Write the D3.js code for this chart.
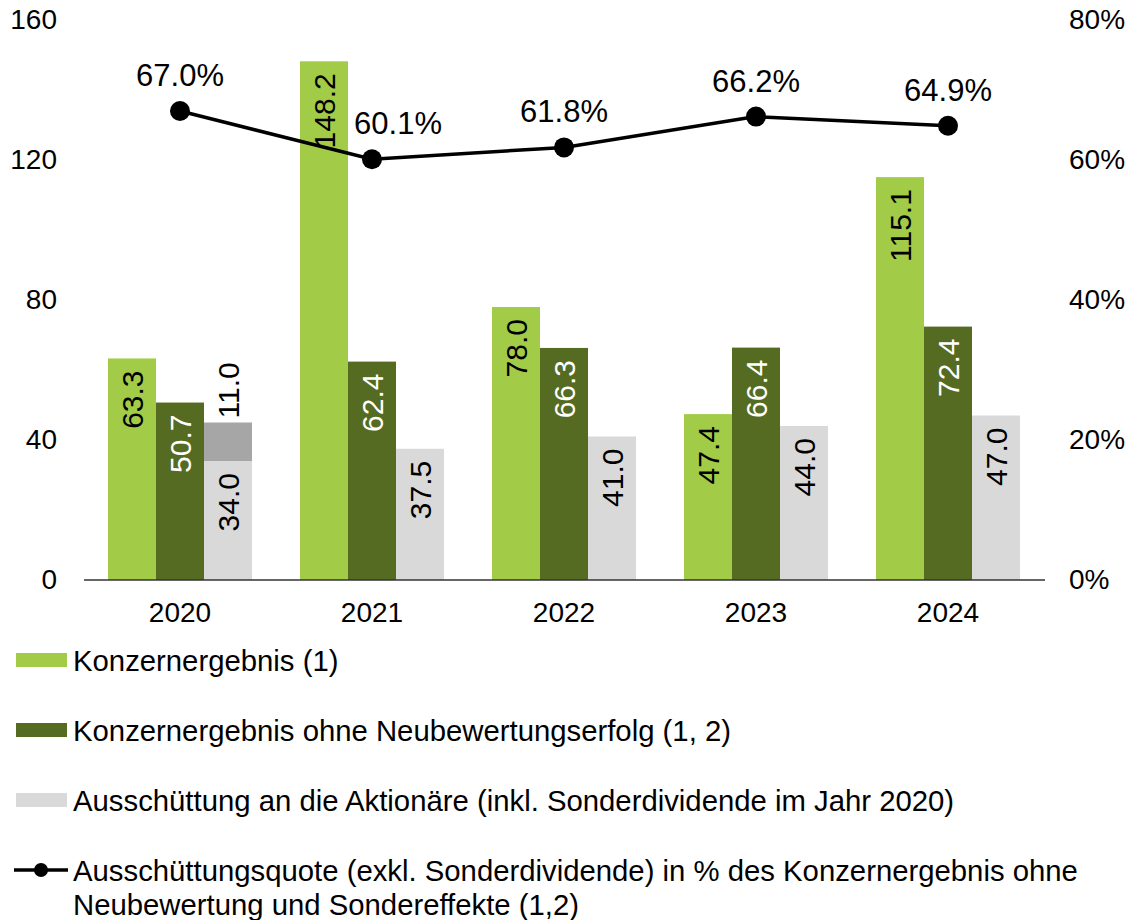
<!DOCTYPE html>
<html lang="de">
<head>
  <meta charset="UTF-8">
  <title>Konzernergebnis und Ausschüttung</title>
  <script src="https://d3js.org/d3.v7.min.js"></script>
  <style>
    body { margin: 0; background: white; font-family: "Liberation Sans", Arial, Helvetica, sans-serif; }
    .tick text { font-size: 28px; fill: #000; }
    .lbl { font-size: 30px; }
    .pct { font-size: 31px; }
    .legend text { font-size: 29.3px; fill: #000; }
  </style>
</head>
<body>
<svg id="svg"></svg>
<script>
// data
const years = ["2020", "2021", "2022", "2023", "2024"];
const konzernergebnis = [63.3, 148.2, 78.0, 47.4, 115.1];
const ohneNeubewertung = [50.7, 62.4, 66.3, 66.4, 72.4];
const ausschuettung = [34.0, 37.5, 41.0, 44.0, 47.0];
const sonderdividende = [11.0, 0, 0, 0, 0];
const quote = [67.0, 60.1, 61.8, 66.2, 64.9];
const leftTicks = [0, 40, 80, 120, 160];
const rightTicks = [0, 20, 40, 60, 80];
const legendLabels = [
  "Konzernergebnis (1)",
  "Konzernergebnis ohne Neubewertungserfolg (1, 2)",
  "Ausschüttung an die Aktionäre (inkl. Sonderdividende im Jahr 2020)",
  ["Ausschüttungsquote (exkl. Sonderdividende) in % des Konzernergebnis ohne", "Neubewertung und Sondereffekte (1,2)"]
];

const W = 1132, H = 920;
const colors = ["#a2cb48", "#556b22", "#d9d9d9"];
const sonderColor = "#a6a6a6";

const svg = d3.select("#svg").attr("width", W).attr("height", H);

const x = d3.scaleBand().domain(years).range([84, 1044]).paddingInner(0.25).paddingOuter(0.125);
const xs = d3.scaleBand().domain([0, 1, 2]).range([0, x.bandwidth()]);
const y = d3.scaleLinear().domain([0, 160]).range([580, 20]);
const yr = d3.scaleLinear().domain([0, 80]).range([580, 20]);

// axes
const leftAxis = svg.append("g").attr("transform", "translate(70,0)")
  .call(d3.axisLeft(y).tickValues(leftTicks).tickSize(0).tickPadding(13));
leftAxis.select(".domain").remove();
const rightAxis = svg.append("g").attr("transform", "translate(1058,0)")
  .call(d3.axisRight(yr).tickValues(rightTicks).tickSize(0).tickPadding(11).tickFormat(d => d + "%"));
rightAxis.select(".domain").remove();
svg.selectAll(".tick text").attr("font-family", "Liberation Sans, Arial, sans-serif");

// bars
const series = [konzernergebnis, ohneNeubewertung, ausschuettung];
const bars = [];
series.forEach((vals, si) => {
  vals.forEach((v, i) => bars.push({ year: years[i], s: si, v: v }));
});

svg.append("g").selectAll("rect").data(bars).join("rect")
  .attr("x", d => x(d.year) + xs(d.s))
  .attr("width", xs.bandwidth())
  .attr("y", d => y(d.v))
  .attr("height", d => y(0) - y(d.v))
  .attr("fill", d => colors[d.s]);

// special dividend stacked on the payout
const sonder = years.map((yr, i) => ({ year: yr, base: ausschuettung[i], v: sonderdividende[i] })).filter(d => d.v > 0);
svg.append("g").selectAll("rect").data(sonder).join("rect")
  .attr("x", d => x(d.year) + xs(2))
  .attr("width", xs.bandwidth())
  .attr("y", d => y(d.base + d.v))
  .attr("height", d => y(d.base) - y(d.base + d.v))
  .attr("fill", sonderColor);

// bar labels, rotated, inside end
svg.append("g").selectAll("text").data(bars).join("text")
  .attr("class", "lbl")
  .attr("transform", d => `translate(${x(d.year) + xs(d.s) + xs.bandwidth() / 2 + 11},${y(d.v) + 12}) rotate(-90)`)
  .attr("text-anchor", "end")
  .attr("fill", d => d.s === 1 ? "#fff" : "#000")
  .text(d => d.v.toFixed(1));

svg.append("g").selectAll("text").data(sonder).join("text")
  .attr("class", "lbl")
  .attr("transform", d => `translate(${x(d.year) + xs(2) + xs.bandwidth() / 2 + 11},${y(d.base + d.v) - 4}) rotate(-90)`)
  .attr("text-anchor", "start")
  .attr("fill", "#000")
  .text(d => d.v.toFixed(1));

// x axis line
svg.append("line").attr("x1", 84).attr("x2", 1045).attr("y1", y(0)).attr("y2", y(0))
  .attr("stroke", "#333").attr("stroke-width", 1.5);
svg.append("g").selectAll("text").data(years).join("text")
  .attr("x", d => x(d) + x.bandwidth() / 2).attr("y", 622)
  .attr("text-anchor", "middle").attr("font-size", 28).text(d => d);

// payout ratio line
const cx = d => x(d) + x.bandwidth() / 2;
const pts = years.map((yv, i) => ({ year: yv, v: quote[i] }));
svg.append("path").datum(pts)
  .attr("d", d3.line().x(d => cx(d.year)).y(d => yr(d.v)))
  .attr("fill", "none").attr("stroke", "#000").attr("stroke-width", 3.5);
svg.append("g").selectAll("circle").data(pts).join("circle")
  .attr("cx", d => cx(d.year)).attr("cy", d => yr(d.v)).attr("r", 10).attr("fill", "#000");
svg.append("g").selectAll("text").data(pts).join("text")
  .attr("class", "pct")
  .attr("x", (d, i) => cx(d.year) + (i === 1 ? 26 : 0))
  .attr("y", d => yr(d.v) - 25)
  .attr("text-anchor", "middle")
  .text(d => d.v.toFixed(1) + "%");

// legend
const lg = svg.append("g").attr("class", "legend");
const rowY = [660, 730, 800, 870];
legendLabels.forEach((lab, i) => {
  const g = lg.append("g").attr("transform", `translate(0,${rowY[i]})`);
  if (i < 3) {
    g.append("rect").attr("x", 16).attr("y", -7).attr("width", 51).attr("height", 14).attr("fill", colors[i]);
  } else {
    g.append("line").attr("x1", 14).attr("x2", 68).attr("y1", 0).attr("y2", 0).attr("stroke", "#000").attr("stroke-width", 3.5);
    g.append("circle").attr("cx", 41).attr("cy", 0).attr("r", 7).attr("fill", "#000");
  }
  const lines = Array.isArray(lab) ? lab : [lab];
  const t = g.append("text").attr("x", 73).attr("y", 11);
  lines.forEach((s, j) => t.append("tspan").attr("x", 73).attr("dy", j === 0 ? 0 : 34).text(s));
});
</script>
</body>
</html>
